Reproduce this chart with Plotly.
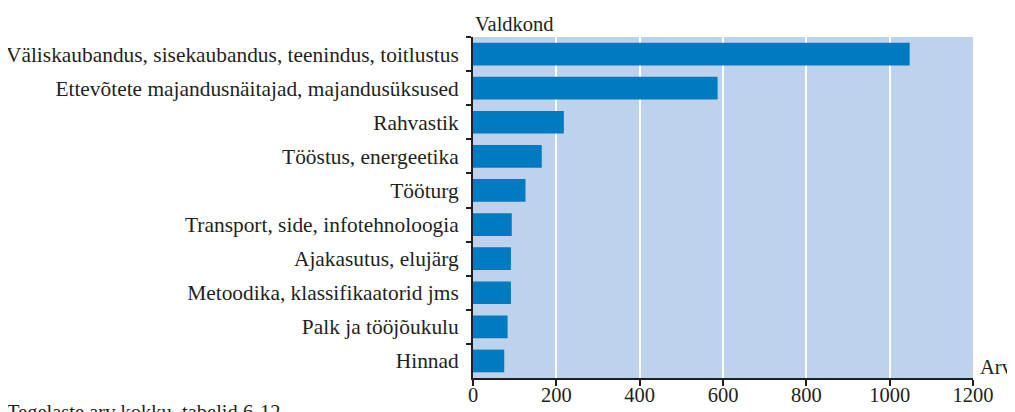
import plotly.graph_objects as go

categories = [
    "Väliskaubandus, sisekaubandus, teenindus, toitlustus",
    "Ettevõtete majandusnäitajad, majandusüksused",
    "Rahvastik",
    "Tööstus, energeetika",
    "Tööturg",
    "Transport, side, infotehnoloogia",
    "Ajakasutus, elujärg",
    "Metoodika, klassifikaatorid jms",
    "Palk ja tööjõukulu",
    "Hinnad",
]
values = [1048, 587, 218, 165, 126, 93, 91, 91, 83, 75]
x_ticks = [0, 200, 400, 600, 800, 1000, 1200]

OFF = 8  # page body margin
W, H = 1015 - OFF, 412 - OFF
L, R, T, B = 473 - OFF, 42, 37 - OFF, 34
pw, ph = W - L - R, H - T - B
FONT = "Liberation Serif"
TXT = "#231F20"

fig = go.Figure(go.Bar(
    x=values, y=categories, orientation="h",
    marker=dict(color="#007BC2", line=dict(width=0)),
    width=0.665,
))

fig.update_layout(
    width=W, height=H,
    margin=dict(l=L, r=R, t=T, b=B, pad=0, autoexpand=False),
    paper_bgcolor="white",
    plot_bgcolor="#BED3EB",
    showlegend=False,
    font=dict(family=FONT, size=20.5, color=TXT),
    xaxis=dict(
        range=[0, 1200], tickvals=x_ticks, ticktext=[str(v) for v in x_ticks],
        showgrid=True, gridcolor="white", gridwidth=2,
        showline=True, linecolor=TXT, linewidth=2,
        ticks="outside", ticklen=6, tickwidth=2, tickcolor=TXT,
        zeroline=False, fixedrange=True, automargin=False,
        ticklabelstandoff=-9,
        tickfont=dict(family=FONT, size=20.5, color=TXT),
    ),
    yaxis=dict(
        categoryorder="array", categoryarray=categories,
        autorange="reversed", automargin=False,
        showgrid=False, zeroline=False,
        showline=True, linecolor=TXT, linewidth=2,
        ticks="outside", ticklen=5, tickwidth=2, tickcolor=TXT,
        tickson="boundaries", ticklabelstandoff=8,
        tickfont=dict(family=FONT, size=21.4, color=TXT),
    ),
    annotations=[
        dict(text="Valdkond", xref="paper", yref="paper", x=0, y=1,
             xanchor="left", yanchor="bottom", yshift=0, showarrow=False,
             font=dict(family=FONT, size=20.5, color=TXT)),
        dict(text="Arv", xref="paper", yref="paper", x=1, y=0,
             xanchor="left", yanchor="bottom", xshift=5, yshift=-2, showarrow=False,
             font=dict(family=FONT, size=20.5, color=TXT)),
        dict(text="Tegelaste arv kokku, tabelid 6-12", xref="paper", yref="paper",
             x=(5 - L - OFF) / pw, y=-(399 - OFF - (H - B)) / ph,
             xanchor="left", yanchor="top", showarrow=False,
             font=dict(family=FONT, size=20.5, color=TXT)),
    ],
)

fig.write_html("out.html")
